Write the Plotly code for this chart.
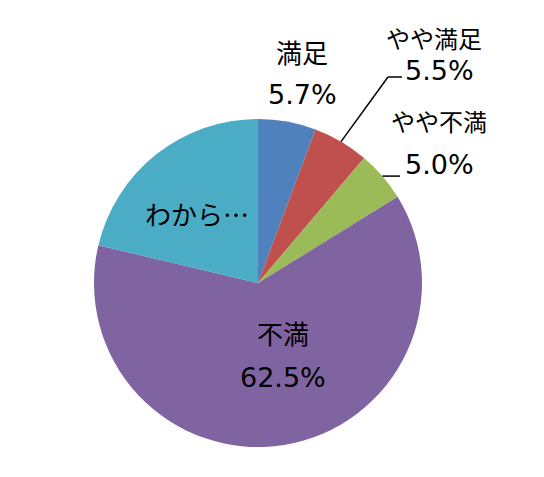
import math
import plotly.graph_objects as go

# data
labels = ['満足', 'やや満足', 'やや不満', '不満', 'わからない']
short_labels = ['満足', 'やや満足', 'やや不満', '不満', 'わから…']
values = [5.7, 5.5, 5.0, 62.5, 21.3]
pct_text = ['5.7%', '5.5%', '5.0%', '62.5%', '']
colors = ['#4F81BD', '#C0504D', '#9BBB59', '#8064A2', '#4BACC6']

WIN_W, WIN_H = 544, 477
OFF = 8                      # default body margin of the html page
W, H = WIN_W - 2 * OFF, WIN_H - 2 * OFF
CX, CY, R = 258, 283, 164    # pie centre / radius in window pixels

JP_FONT = 'Noto Sans CJK JP'
NUM_FONT = 'DejaVu Sans, Noto Sans CJK JP'


def px(x, y):
    # window pixels -> paper coords
    return (x - OFF) / W, 1 - (y - OFF) / H


def mid_angle(i):
    start = sum(values[:i])
    return (start + values[i] / 2) / sum(values) * 360


def on_edge(i, r=R):
    a = math.radians(mid_angle(i))
    return CX + r * math.sin(a), CY - r * math.cos(a)


x0, y1 = px(CX - R, CY - R)
x1, y0 = px(CX + R, CY + R)
fig = go.Figure(go.Pie(
    labels=labels, values=values, sort=False, direction='clockwise',
    marker=dict(colors=colors, line=dict(width=0)),
    textinfo='none', showlegend=False,
    domain=dict(x=[x0, x1], y=[y0, y1]),
))

# label placement (window pixel centres): name, percent, name font size
label_pos = {
    0: ((302, 52), (302, 95), 26),
    1: ((434, 38), (439, 70), 24),
    2: ((439, 120), (439, 164), 24),
    3: ((283, 332), (283, 377), 26),
    4: ((197, 213), None, 26),
}

ann = []
for i, (lp, pp, fs) in label_pos.items():
    x, y = px(*lp)
    ann.append(dict(x=x, y=y, xref='paper', yref='paper', text=short_labels[i], showarrow=False,
                    font=dict(family=JP_FONT, size=fs, color='black'), xanchor='center', yanchor='middle'))
    if pp:
        x, y = px(*pp)
        ann.append(dict(x=x, y=y, xref='paper', yref='paper', text=pct_text[i], showarrow=False,
                        font=dict(family=NUM_FONT, size=27, color='black'), xanchor='center', yanchor='middle'))

# leader lines for the two pushed-out labels
shapes = []
sx, sy = on_edge(1)
for (ax, ay), (bx, by) in [((sx, sy), (388, 77)), ((388, 77), (402, 77))]:
    a, b = px(ax, ay)
    c, d = px(bx, by)
    shapes.append(dict(type='line', xref='paper', yref='paper', x0=a, y0=b, x1=c, y1=d,
                       line=dict(color='black', width=1.5)))
sx, sy = on_edge(2)
a, b = px(sx, sy)
c, d = px(400, sy)
shapes.append(dict(type='line', xref='paper', yref='paper', x0=a, y0=b, x1=c, y1=d,
                   line=dict(color='black', width=1.5)))

fig.update_layout(
    width=W, height=H,
    margin=dict(l=0, r=0, t=0, b=0),
    paper_bgcolor='white', plot_bgcolor='white',
    annotations=ann, shapes=shapes,
)

fig.write_html("out.html")
